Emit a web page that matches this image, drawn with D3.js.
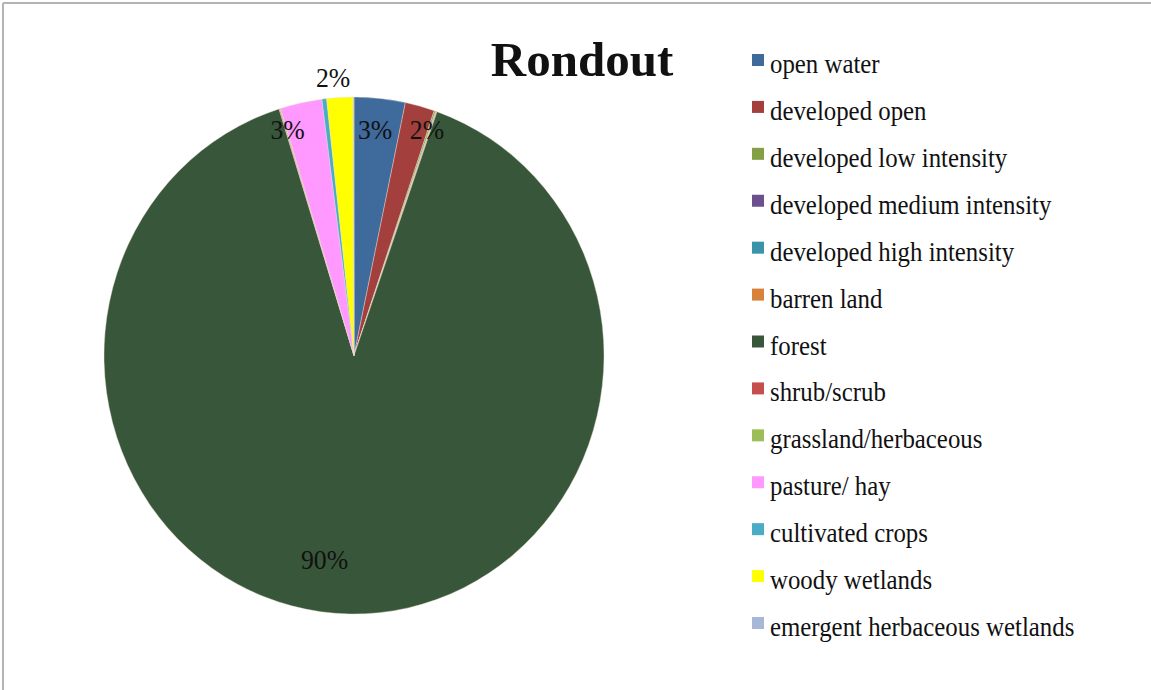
<!DOCTYPE html>
<html>
<head>
<meta charset="utf-8">
<script src="https://cdn.jsdelivr.net/npm/d3@7"></script>
<style>
  html, body { margin: 0; padding: 0; background: #fff; }
  svg { display: block; }
  text { font-family: "Liberation Serif", "Times New Roman", serif; fill: #111; }
</style>
</head>
<body>
<script>
// Land cover shares (percent) for the Rondout watershed, clockwise from 12 o'clock
const categories = [
  "open water", "developed open", "developed low intensity", "developed medium intensity",
  "developed high intensity", "barren land", "forest", "shrub/scrub",
  "grassland/herbaceous", "pasture/ hay", "cultivated crops", "woody wetlands",
  "emergent herbaceous wetlands"
];
const shares = [3.3, 1.9, 0.1, 0.03, 0.02, 0.04, 89.8, 0.05, 0.05, 2.7, 0.3, 1.7, 0.05];
const colors = [
  "#3f6a9c", "#a33f3c", "#83a144", "#6b4f8e", "#3a93a8", "#d8813a", "#385639",
  "#c64f4d", "#9dbd58", "#ff99ff", "#4aacc5", "#ffff00", "#a7b8d6"
];
const title = "Rondout";

const W = 1151, H = 690;
const cx = 354, cy = 355.5, R = 250, squash = 1.034;

// label placement: radial factor and angular nudge (degrees) for the labelled slices
const labelPlacement = {
  "open water":     { r: 0.876, da: -0.4 },
  "developed open": { r: 0.92,  da: 3.2 },
  "forest":         { r: 0.80,  da: 7.5 },
  "pasture/ hay":   { r: 0.912, da: -4.7 },
  "woody wetlands": { r: 1.08,  da: -1.2 }
};

const data = categories.map((c, i) => ({ name: c, value: shares[i], color: colors[i] }));
const total = d3.sum(shares);

const svg = d3.select("body").append("svg").attr("width", W).attr("height", H);

// frame lines
svg.append("line").attr("x1", 3).attr("y1", 3).attr("x2", W).attr("y2", 3)
  .attr("stroke", "#b4b4b4").attr("stroke-width", 2);
svg.append("line").attr("x1", 3).attr("y1", 3).attr("x2", 3).attr("y2", H)
  .attr("stroke", "#b4b4b4").attr("stroke-width", 2);

const pie = d3.pie().sort(null).value(d => d.value);
const arcs = pie(data);
const arc = d3.arc().innerRadius(0).outerRadius(R);

const g = svg.append("g").attr("transform", `translate(${cx},${cy}) scale(1,${squash})`);
g.selectAll("path").data(arcs).join("path")
  .attr("d", arc)
  .attr("fill", d => d.data.color)
  .attr("stroke", "#e8e2cf")
  .attr("stroke-width", 0.4);

// percentage labels
const labels = arcs.filter(d => labelPlacement[d.data.name]);
svg.selectAll("text.pct").data(labels).join("text")
  .attr("class", "pct")
  .attr("transform", d => {
    const p = labelPlacement[d.data.name];
    const a = (d.startAngle + d.endAngle) / 2 + p.da * Math.PI / 180;
    const rr = R * p.r;
    const x = cx + Math.sin(a) * rr;
    const y = cy - Math.cos(a) * rr * squash;
    return `translate(${x},${y}) scale(0.92,1)`;
  })
  .attr("text-anchor", "middle")
  .attr("dominant-baseline", "central")
  .style("font-size", "28px")
  .text(d => Math.round(d.data.value / total * 100) + "%");

// title
svg.append("text")
  .attr("x", 582).attr("y", 76)
  .attr("text-anchor", "middle")
  .style("font-size", "49px").style("font-weight", "bold")
  .text(title);

// legend
const legendY = d3.scalePoint().domain(categories).range([73, 636]);
const leg = svg.append("g");
const rows = leg.selectAll("g").data(data).join("g")
  .attr("transform", d => `translate(0,${legendY(d.name)})`);
rows.append("rect")
  .attr("x", 752).attr("y", -19).attr("width", 12).attr("height", 12)
  .attr("fill", d => d.color);
rows.append("text")
  .attr("transform", "translate(770,0) scale(0.92,1)")
  .style("font-size", "27px")
  .text(d => d.name);
</script>
</body>
</html>
